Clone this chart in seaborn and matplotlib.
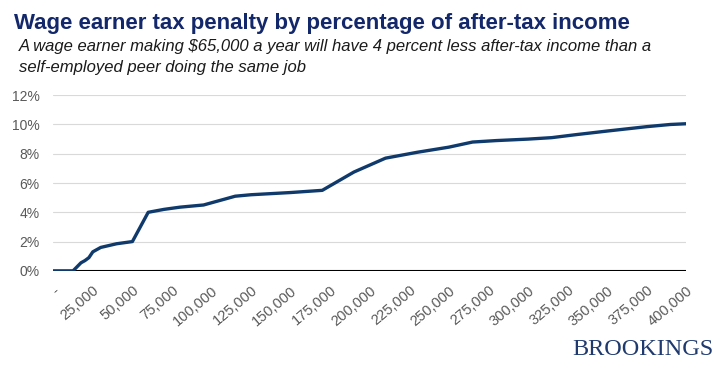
import numpy as np
import pandas as pd
import matplotlib.pyplot as plt
import seaborn as sns

# Income levels and wage earner tax penalty (% of after-tax income)
income = [0, 12500, 17500, 20000, 22500, 25000, 30000, 40000, 50000, 60000,
          70000, 80000, 95000, 115000, 125000, 150000, 170000, 190000, 210000,
          230000, 250000, 265000, 280000, 300000, 315000, 330000, 350000,
          375000, 390000, 400000]
penalty = [0, 0, 0.55, 0.7, 0.9, 1.3, 1.6, 1.85, 2.0, 4.0,
           4.2, 4.35, 4.5, 5.1, 5.2, 5.35, 5.5, 6.75, 7.7,
           8.1, 8.45, 8.8, 8.9, 9.0, 9.1, 9.3, 9.55,
           9.85, 10.0, 10.05]

x_ticks = list(range(0, 400001, 25000))
x_labels = ["-"] + [f"{v:,}" for v in x_ticks[1:]]
y_ticks = [0, 2, 4, 6, 8, 10, 12]
y_labels = [f"{v}%" for v in y_ticks]

df = pd.DataFrame({"income": income, "penalty": penalty})

sns.set_style("white")
plt.rcParams['font.family'] = ['Liberation Sans', 'DejaVu Sans']

fig = plt.figure(figsize=(7.2, 3.69), dpi=100)
ax = fig.add_axes([0.074, 0.266, 0.879, 0.476])

sns.lineplot(data=df, x="income", y="penalty", ax=ax, color="#0f3a6b",
             linewidth=2.4, zorder=3)

ax.set_xlim(0, 400000)
ax.set_ylim(0, 12)
ax.set_yticks(y_ticks)
ax.set_yticklabels(y_labels, fontsize=10, color="#595959")
ax.set_xticks(x_ticks)
ax.set_xticklabels(x_labels, fontsize=10.5, color="#595959", rotation=40,
                   ha="right", rotation_mode="anchor")
ax.tick_params(axis="y", length=0, pad=10)
ax.tick_params(axis="x", length=0, pad=9)
ax.grid(axis="y", color="#d9d9d9", linewidth=0.8)
ax.axhline(0, color="black", linewidth=1.5, zorder=2)
for s in ax.spines.values():
    s.set_visible(False)
ax.set_xlabel("")
ax.set_ylabel("")

fig.text(0.019, 0.937, "Wage earner tax penalty by percentage of after-tax income",
         fontsize=16, fontweight="bold", color="#13276b", va="center")
fig.text(0.026, 0.875, "A wage earner making $65,000 a year will have 4 percent less after-tax income than a",
         fontsize=12, style="italic", color="#1a1a1a", va="center")
fig.text(0.026, 0.816, "self-employed peer doing the same job",
         fontsize=12, style="italic", color="#1a1a1a", va="center")
fig.text(0.991, 0.054, "BROOKINGS", fontsize=17.5, family="Liberation Serif",
         color="#1f3a6e", ha="right", va="center")

fig.savefig("out.png", dpi=100)
